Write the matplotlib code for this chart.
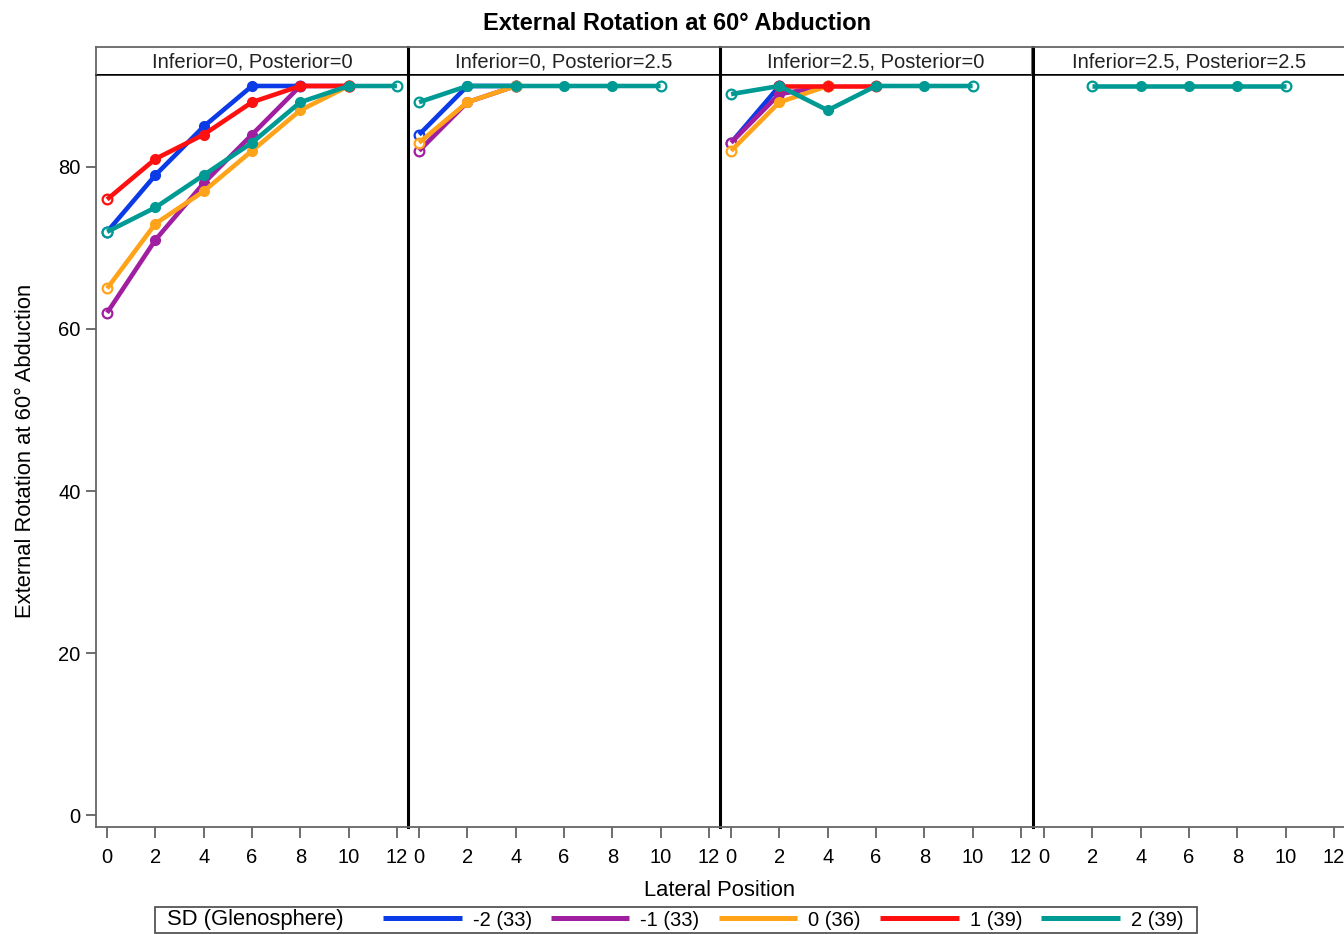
import numpy as np
import matplotlib
matplotlib.use('Agg')
import matplotlib.pyplot as plt
from matplotlib.lines import Line2D
from matplotlib.patches import Rectangle

plt.rcParams['font.family'] = ['Liberation Sans', 'DejaVu Sans']

nan = np.nan
lateral = [0, 2, 4, 6, 8, 10, 12]
panel_titles = ['Inferior=0, Posterior=0', 'Inferior=0, Posterior=2.5',
                'Inferior=2.5, Posterior=0', 'Inferior=2.5, Posterior=2.5']
series_labels = ['-2 (33)', '-1 (33)', '0 (36)', '1 (39)', '2 (39)']
series_colors = ['#0b3be6', '#a01ea0', '#ffa31a', '#ff1010', '#009a94']

# values per panel, one list per SD level (nan = no observation)
p1_m2 = [72, 79, 85, 90, 90, nan, nan]
p1_m1 = [62, 71, 78, 84, 90, 90, nan]
p1_0 = [65, 73, 77, 82, 87, 90, nan]
p1_1 = [76, 81, 84, 88, 90, 90, nan]
p1_2 = [72, 75, 79, 83, 88, 90, 90]

p2_m2 = [84, 90, 90, nan, nan, nan, nan]
p2_m1 = [82, 88, 90, nan, nan, nan, nan]
p2_0 = [83, 88, 90, nan, nan, nan, nan]
p2_1 = [nan, nan, nan, nan, nan, nan, nan]
p2_2 = [88, 90, 90, 90, 90, 90, nan]

p3_m2 = [83, 90, nan, nan, nan, nan, nan]
p3_m1 = [83, 89, 90, nan, nan, nan, nan]
p3_0 = [82, 88, 90, nan, nan, nan, nan]
p3_1 = [nan, 90, 90, 90, nan, nan, nan]
p3_2 = [89, 90, 87, 90, 90, 90, nan]

p4_m2 = [nan] * 7
p4_m1 = [nan] * 7
p4_0 = [nan] * 7
p4_1 = [nan] * 7
p4_2 = [nan, 90, 90, 90, 90, 90, nan]

panels = [[p1_m2, p1_m1, p1_0, p1_1, p1_2],
          [p2_m2, p2_m1, p2_0, p2_1, p2_2],
          [p3_m2, p3_m1, p3_0, p3_1, p3_2],
          [p4_m2, p4_m1, p4_0, p4_1, p4_2]]

W, H = 1344, 934
fig = plt.figure(figsize=(W / 100, H / 100), dpi=100)

lefts = [96, 408, 720, 1033]
pw = 312
bot, top = 827, 74
strip_top = 47
lw = 3.3
ms = 7

for k, (left, data) in enumerate(zip(lefts, panels)):
    ax = fig.add_axes([left / W, 1 - bot / H, pw / W, (bot - top) / H])
    x = np.array(lateral, dtype=float)
    for i, vals in enumerate(data):
        y = np.array(vals, dtype=float)
        ok = ~np.isnan(y)
        if not ok.any():
            continue
        xs, ys = x[ok], y[ok]
        c = series_colors[i]
        z = 3 + i
        ax.plot(xs, ys, color=c, lw=lw, solid_capstyle='butt', zorder=z + 0.5)
        ends = [0, len(xs) - 1]
        ax.plot(xs[ends], ys[ends], 'o', ms=ms, mfc='white', mec=c, mew=1.6,
                ls='none', zorder=z)
        if len(xs) > 2:
            ax.plot(xs[1:-1], ys[1:-1], 'o', ms=ms, mfc=c, mec=c,
                    ls='none', zorder=z + 0.6)
    ax.set_xlim(-0.46, 12.46)
    ax.set_ylim(-1.48, 91.48)
    ax.set_xticks(lateral)
    ax.tick_params(axis='x', length=8, width=1.2, color='#555555', labelsize=14.5,
                   pad=7)
    ax.spines['bottom'].set_color('#666666')
    ax.spines['bottom'].set_linewidth(1.3)
    ax.spines['top'].set_color('black')
    ax.spines['top'].set_linewidth(1.8)
    ax.spines['right'].set_visible(False)
    if k == 0:
        ax.set_yticks([0, 20, 40, 60, 80])
        ax.tick_params(axis='y', length=7, width=1.2, color='#555555',
                       labelsize=14.5, pad=4)
        ax.spines['left'].set_color('#666666')
        ax.spines['left'].set_linewidth(1.3)
        ax.set_ylabel('External Rotation at 60\u00b0 Abduction', fontsize=15.8,
                      labelpad=16)
    else:
        ax.set_yticks([])
        ax.spines['left'].set_color('black')
        ax.spines['left'].set_linewidth(2.2)

    # header strip
    sax = fig.add_axes([left / W, 1 - top / H, pw / W, (top - strip_top) / H])
    sax.set_xticks([])
    sax.set_yticks([])
    for s in ['top', 'right']:
        sax.spines[s].set_color('#666666')
        sax.spines[s].set_linewidth(1.3)
    sax.spines['bottom'].set_visible(False)
    if k == 0:
        sax.spines['left'].set_color('#666666')
        sax.spines['left'].set_linewidth(1.3)
    else:
        sax.spines['left'].set_color('black')
        sax.spines['left'].set_linewidth(2.2)
    sax.text(0.5, 0.45, panel_titles[k], ha='center', va='center', fontsize=14.5,
             color='#222222', transform=sax.transAxes)

fig.text(677 / W, 1 - 24 / H, 'External Rotation at 60\u00b0 Abduction',
         ha='center', va='center', fontsize=17, fontweight='bold')
fig.text(720 / W, 1 - 891 / H, 'Lateral Position', ha='center', va='center',
         fontsize=15.8)

# legend box
fig.patches.append(Rectangle((155 / W, 1 - 933 / H), (1197 - 155) / W, 26 / H,
                             transform=fig.transFigure, fill=False,
                             edgecolor='#555555', lw=1.3))
fig.text(167 / W, 1 - 920 / H, 'SD (Glenosphere)', ha='left', va='center',
         fontsize=15.8)
handles = [Line2D([], [], color=c, lw=3.6, solid_capstyle='butt')
           for c in series_colors]
fig.legend(handles, series_labels, ncol=5, frameon=False, fontsize=14.5,
           loc='center left', bbox_to_anchor=(383 / W, 1 - 920 / H),
           handlelength=3.9, handletextpad=0.55, columnspacing=0.95,
           borderpad=0, borderaxespad=0)

fig.savefig('out.png', dpi=100)
